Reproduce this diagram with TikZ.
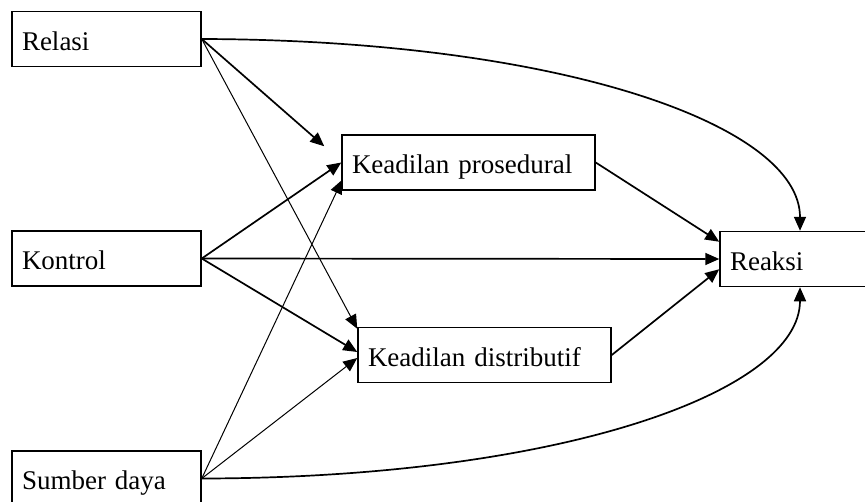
\documentclass[tikz,border=0pt]{standalone}
\usepackage{fontspec}
\setmainfont{Liberation Serif}
\usetikzlibrary{arrows.meta,calc}

\tikzset{
  box/.style={draw=black, line width=1.5pt, rectangle, minimum height=55pt,
    inner xsep=10pt, inner ysep=0pt, align=left,
    text height=22pt, text depth=0pt, font=\fontsize{27}{30}\selectfont},
  leftbox/.style={box, text width=169pt},
  midbox/.style={box, text width=233pt},
  endbox/.style={box, text width=140pt},
  link/.style={line width=1.7pt, -{Triangle[length=14pt,width=12pt]}},
  thinlink/.style={line width=1pt, -{Triangle[length=14pt,width=12pt]}},
}

\begin{document}
\begin{tikzpicture}[x=1pt, y=-1pt]
  \useasboundingbox (0,0) rectangle (865,501);

  % source variables
  \node[leftbox] (rel) at (106.5, 39)    {Relasi};
  \node[leftbox] (kon) at (106.5, 258.5) {Kontrol};
  \node[leftbox] (sum) at (106.5, 478.5) {Sumber daya};

  % mediators
  \node[midbox] (pro) at (468.5, 162.5) {Keadilan prosedural};
  \node[midbox] (dis) at (484.5, 355)   {Keadilan distributif};

  % outcome
  \node[endbox] (rea) at (800, 259) {Reaksi};

  % arrow end points beside the boxes
  \coordinate (pro-a) at ($(pro.north west)+(-17,12)$);
  \coordinate (pro-c) at ($(pro.south west)+(1,-11)$);
  \coordinate (dis-a) at ($(dis.north west)+(0,2)$);
  \coordinate (dis-b) at ($(dis.west)+(0,-3)$);
  \coordinate (dis-c) at ($(dis.west)+(0,3)$);
  \coordinate (rea-a) at ($(rea.north west)+(0,11)$);
  \coordinate (rea-c) at ($(rea.south west)+(0,-18)$);

  % Relasi
  \draw[link] (rel.east) -- (pro-a);
  \draw[thinlink] (rel.east) -- (dis-a);
  \draw[link] (rel.east) .. controls (560,40) and (800,125) .. (rea.north);

  % Kontrol
  \draw[link] (kon.east) -- (pro.west);
  \draw[link] (kon.east) -- (dis-b);
  \draw[link] (kon.east) -- (rea.west);

  % Sumber daya
  \draw[thinlink] (sum.east) -- (pro-c);
  \draw[thinlink] (sum.east) -- (dis-c);
  \draw[link] (sum.east) .. controls (560,478) and (800,392) .. (rea.south);

  % mediators to outcome
  \draw[link] (pro.east) -- (rea-a);
  \draw[link] (dis.east) -- (rea-c);
\end{tikzpicture}
\end{document}
